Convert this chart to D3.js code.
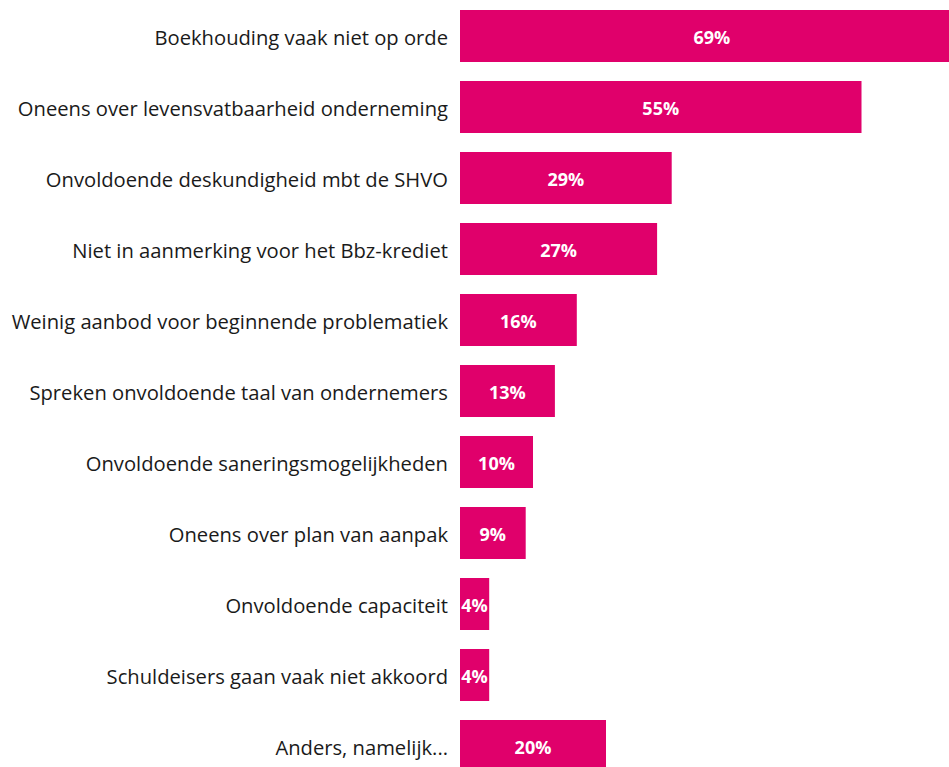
<!DOCTYPE html>
<html lang="nl">
<head>
<meta charset="UTF-8">
<title>Knelpunten</title>
<script src="https://d3js.org/d3.v7.min.js"></script>
<style>
  body { margin: 0; background: #fff; }
  svg { display: block; }
  .cat { font-family: "Open Sans", sans-serif; font-size: 20.2px; fill: #1a1a1a; }
  .val { font-family: "Open Sans", sans-serif; font-size: 18px; font-weight: bold; fill: #fff; }
</style>
</head>
<body>
<svg id="chart"></svg>
<script>
  const categories = [
    "Boekhouding vaak niet op orde",
    "Oneens over levensvatbaarheid onderneming",
    "Onvoldoende deskundigheid mbt de SHVO",
    "Niet in aanmerking voor het Bbz-krediet",
    "Weinig aanbod voor beginnende problematiek",
    "Spreken onvoldoende taal van ondernemers",
    "Onvoldoende saneringsmogelijkheden",
    "Oneens over plan van aanpak",
    "Onvoldoende capaciteit",
    "Schuldeisers gaan vaak niet akkoord",
    "Anders, namelijk..."
  ];
  const values = [69, 55, 29, 27, 16, 13, 10, 9, 4, 4, 20];

  const width = 949, height = 767;
  const left = 460;

  const svg = d3.select("#chart")
    .attr("width", width)
    .attr("height", height);

  const x = d3.scaleLinear()
    .domain([0, 100])
    .range([left, left + 730]);

  const y = d3.scaleBand()
    .domain(categories)
    .range([10, 772])
    .paddingInner(19 / 71)
    .paddingOuter(0);

  const rows = svg.selectAll("g.row")
    .data(categories.map((c, i) => ({ cat: c, v: values[i] })))
    .enter()
    .append("g")
    .attr("class", "row");

  rows.append("rect")
    .attr("x", x(0))
    .attr("y", d => y(d.cat))
    .attr("width", d => x(d.v) - x(0))
    .attr("height", y.bandwidth())
    .attr("fill", "#e0006b");

  rows.append("text")
    .attr("class", "cat")
    .attr("x", left - 12)
    .attr("y", d => y(d.cat) + y.bandwidth() / 2 + 2)
    .attr("dy", "0.35em")
    .attr("text-anchor", "end")
    .text(d => d.cat);

  rows.append("text")
    .attr("class", "val")
    .attr("x", d => (x(0) + x(d.v)) / 2)
    .attr("y", d => y(d.cat) + y.bandwidth() / 2 + 2)
    .attr("dy", "0.35em")
    .attr("text-anchor", "middle")
    .text(d => d.v + "%");
</script>
</body>
</html>
